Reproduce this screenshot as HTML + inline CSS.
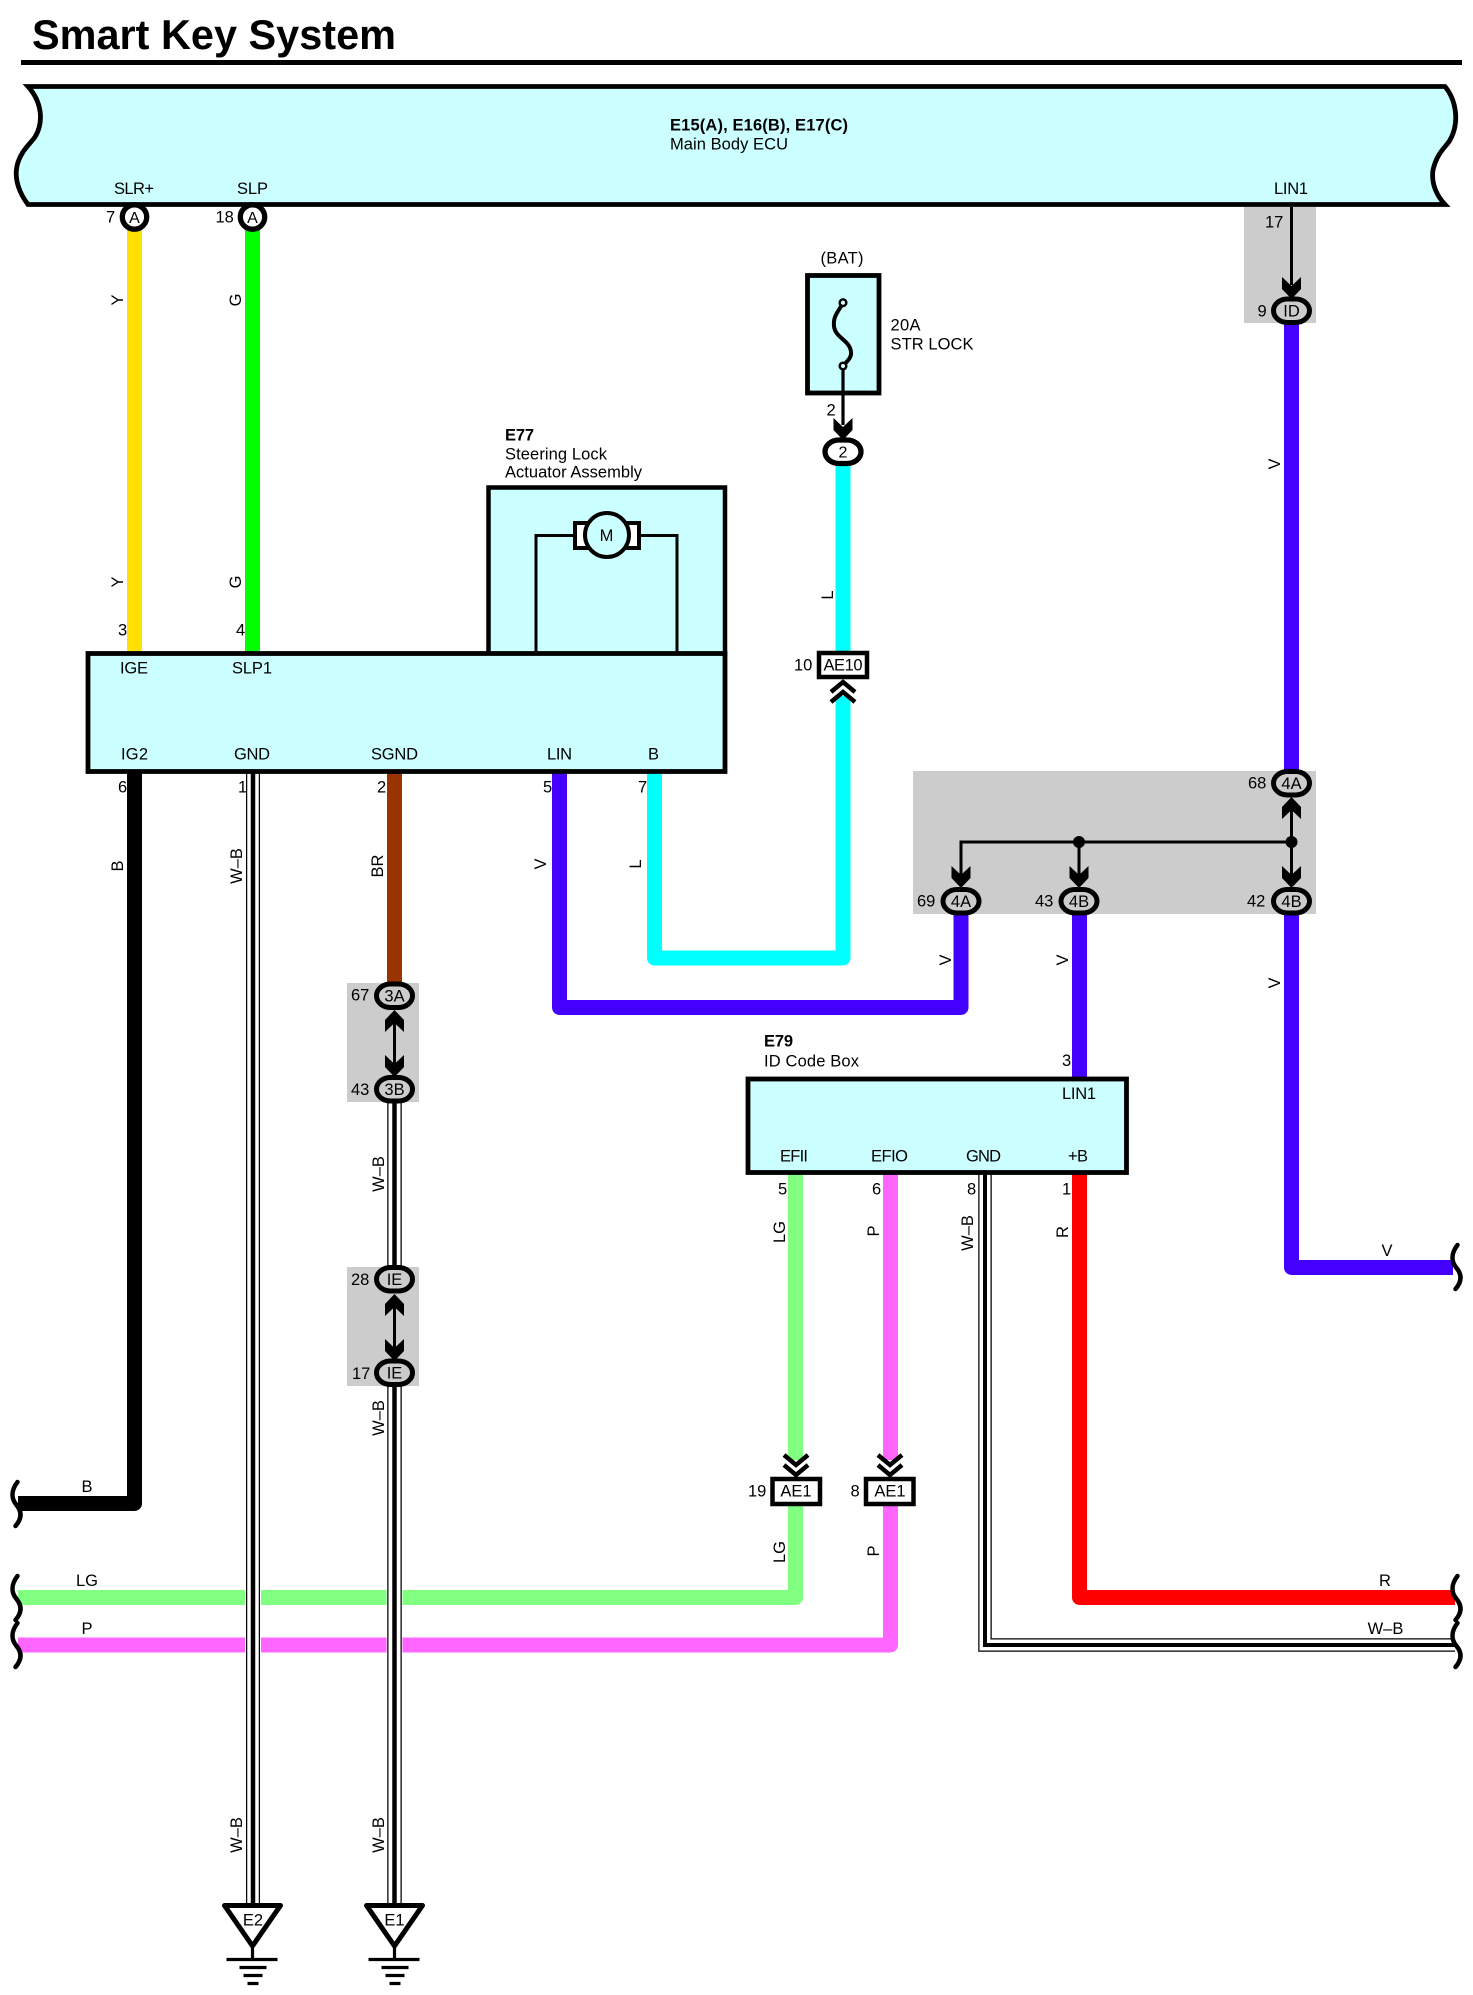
<!DOCTYPE html>
<html><head><meta charset="utf-8"><title>Smart Key System</title>
<style>
html,body{margin:0;padding:0;background:#fff}
svg{display:block}
text{font-family:"Liberation Sans",Arial,sans-serif;font-size:16.5px;fill:#000}
.b{font-weight:bold}
.m{text-anchor:middle}
.w{fill:none;stroke-width:15;stroke-linejoin:round}
</style></head><body>
<svg width="1473" height="1995" viewBox="0 0 1473 1995" xmlns="http://www.w3.org/2000/svg">
<defs>
<g id="ad"><path d="M-9.5 0 L0 9 L9.5 0 V12 L0 22 L-9.5 12 Z" fill="#000"/></g>
<g id="au"><path d="M-9.5 0 L0 -9 L9.5 0 V-12 L0 -22 L-9.5 -12 Z" fill="#000"/></g>
<g id="gnd" fill="none" stroke="#000" stroke-width="3.2">
<path d="M-26 1959.5H25M-13 1967.5H14M-9 1975.5H10M-5 1983.5H6"/>
<path d="M0 1945V1959" />
<path d="M-28 1905.5H28L0 1946Z" fill="#fff" stroke-width="5" stroke-linejoin="round"/>
</g>
<path id="sq" d="M0 0 C-7 9 -6 17 -1 23 C4 29 5 36 -2 44" fill="none" stroke="#000" stroke-width="4.5" stroke-linecap="round"/>
</defs>

<text x="32" y="49" class="b" style="font-size:41.5px" textLength="364" lengthAdjust="spacingAndGlyphs">Smart Key System</text>
<rect x="21" y="60" width="1441" height="5" fill="#000"/>

<!-- ECU -->
<path d="M28 86.500 H1445 C1456 100 1460 122 1450 140 C1447 146 1437 152 1433 170 C1431 184 1437 196 1445 204.500 H28 C20 194 14 180 17 166 C20 152 30 144 35 137 C44 122 42 102 28 86.500Z" fill="#ccffff" stroke="#000" stroke-width="4.800" stroke-linejoin="miter"/>
<text x="670" y="130.700" class="b" textLength="178" lengthAdjust="spacing">E15(A), E16(B), E17(C)</text>
<text x="670" y="149.700" textLength="118" lengthAdjust="spacing">Main Body ECU</text>
<text x="114" y="194" textLength="40" lengthAdjust="spacing">SLR+</text>
<text x="237" y="194" textLength="31" lengthAdjust="spacing">SLP</text>
<text x="1274" y="194" textLength="34" lengthAdjust="spacing">LIN1</text>

<!-- gray boxes -->
<g fill="#cccccc">
<rect x="1244" y="207" width="72" height="116"/>
<rect x="913" y="771" width="403" height="143"/>
<rect x="347" y="983" width="72" height="119"/>
<rect x="347" y="1267" width="72" height="119"/>
</g>

<!-- E77 upper box -->
<rect x="488.500" y="487.500" width="236.500" height="166.500" fill="#ccffff" stroke="#000" stroke-width="4.500"/>
<path d="M536 653V535.500H677V653" fill="none" stroke="#000" stroke-width="3"/>
<rect x="575" y="523" width="64" height="25" fill="#fff" stroke="#000" stroke-width="4"/>
<circle cx="607" cy="535" r="22" fill="#ccffff" stroke="#000" stroke-width="4"/>
<text x="606.500" y="541" class="m">M</text>
<text x="505" y="440.700" class="b" textLength="29" lengthAdjust="spacing">E77</text>
<text x="505" y="459.700" textLength="102" lengthAdjust="spacing">Steering Lock</text>
<text x="505" y="477.500" textLength="137" lengthAdjust="spacing">Actuator Assembly</text>

<!-- thick wires -->
<g class="wires">
<path class="w" stroke="#ffe000" d="M134.500 230V652"/>
<path class="w" stroke="#00ff00" d="M252.500 230V652"/>
<path class="w" stroke="#000" d="M134.500 772V1503.500H18"/>
<path class="w" stroke="#993300" d="M394.500 772V985"/>
<path class="w" stroke="#4400ff" d="M559.500 772V1007.500H961V910"/>
<path class="w" stroke="#00ffff" d="M654.500 772V958H843V696"/>
<path class="w" stroke="#00ffff" d="M843 460V652"/>
<path class="w" stroke="#4400ff" d="M1291.500 320V775"/>
<path class="w" stroke="#4400ff" d="M1291.500 910V1267.500H1453"/>
<path class="w" stroke="#4400ff" d="M1079.500 910V1078"/>
<path class="w" stroke="#80ff80" d="M795.500 1172V1460"/>
<path class="w" stroke="#80ff80" d="M795.500 1500V1597.500H18"/>
<path class="w" stroke="#ff66ff" d="M890.500 1172V1460"/>
<path class="w" stroke="#ff66ff" d="M890.500 1500V1645H18"/>
<path class="w" stroke="#ff0000" d="M1079.500 1172V1597.500H1455"/>
</g>

<!-- W-B wires -->
<g fill="none">
<path d="M253 772V1906" stroke="#fff" stroke-width="16"/>
<path d="M253 772V1906" stroke="#000" stroke-width="14"/>
<path d="M253 772V1906" stroke="#fff" stroke-width="11.500"/>
<path d="M253 772V1906" stroke="#000" stroke-width="4.500"/>
<path d="M394.500 1090V1280M394.500 1375V1906" stroke="#fff" stroke-width="16"/>
<path d="M394.500 1090V1280M394.500 1375V1906" stroke="#000" stroke-width="14.500"/>
<path d="M394.500 1090V1280M394.500 1375V1906" stroke="#fff" stroke-width="12"/>
<path d="M394.500 1090V1280M394.500 1375V1906" stroke="#000" stroke-width="4.500"/>
<path d="M985 1172V1645H1455" stroke="#000" stroke-width="13.500"/>
<path d="M985 1172V1645H1455" stroke="#fff" stroke-width="11"/>
<path d="M985 1172V1645H1455" stroke="#000" stroke-width="4"/>
</g>

<!-- E77 main block -->
<rect x="88" y="653.500" width="637" height="118" fill="#ccffff" stroke="#000" stroke-width="4.800"/>
<text x="120" y="673.500" textLength="28" lengthAdjust="spacing">IGE</text>
<text x="232" y="673.500" textLength="40" lengthAdjust="spacing">SLP1</text>
<text x="121" y="759.500" textLength="27" lengthAdjust="spacing">IG2</text>
<text x="234" y="759.500" textLength="36" lengthAdjust="spacing">GND</text>
<text x="371" y="759.500" textLength="47" lengthAdjust="spacing">SGND</text>
<text x="547" y="759.500" textLength="25" lengthAdjust="spacing">LIN</text>
<text x="648" y="759.500">B</text>

<!-- E79 -->
<rect x="748" y="1079" width="378.500" height="93.500" fill="#ccffff" stroke="#000" stroke-width="4.800"/>
<text x="764" y="1046.300" class="b" textLength="29" lengthAdjust="spacing">E79</text>
<text x="764" y="1066.700" textLength="95" lengthAdjust="spacing">ID Code Box</text>
<text x="1062" y="1099" textLength="34" lengthAdjust="spacing">LIN1</text>
<text x="780" y="1161.500" textLength="28" lengthAdjust="spacing">EFII</text>
<text x="871" y="1161.500" textLength="37" lengthAdjust="spacing">EFIO</text>
<text x="966" y="1161.500" textLength="35" lengthAdjust="spacing">GND</text>
<text x="1068" y="1161.500" textLength="20" lengthAdjust="spacing">+B</text>

<!-- Fuse -->
<rect x="807.500" y="275.500" width="71.500" height="117.500" fill="#ccffff" stroke="#000" stroke-width="4.800"/>
<path d="M843 303 C838 312 833 316 834 326 C835 338 850 340 851 352 C852 358 846 362 843 366" fill="none" stroke="#000" stroke-width="4"/>
<path d="M843 366V425" stroke="#000" stroke-width="3.200"/>
<circle cx="843" cy="302.700" r="3.300" fill="#ccffff" stroke="#000" stroke-width="2.500"/>
<circle cx="843" cy="366" r="3.300" fill="#ccffff" stroke="#000" stroke-width="2.500"/>
<text x="842" y="263.500" class="m" textLength="43" lengthAdjust="spacing">(BAT)</text>
<text x="890.500" y="330.700" textLength="30" lengthAdjust="spacing">20A</text>
<text x="890.500" y="349.500" textLength="83" lengthAdjust="spacing">STR LOCK</text>
<text x="826.500" y="415.500">2</text>
<use href="#ad" x="843" y="418"/>

<!-- thin junction wires -->
<g fill="none" stroke="#000" stroke-width="3">
<path d="M1291.500 207V285"/>
<path d="M961 875V842H1291.500M1079 842V875M1291.500 810V875"/>
<path d="M394.500 1020V1065M394.500 1304V1349"/>
</g>
<circle cx="1079" cy="842" r="6" fill="#000"/>
<circle cx="1291.500" cy="842" r="6" fill="#000"/>
<use href="#ad" x="1291.500" y="277"/>
<use href="#ad" x="961" y="866"/>
<use href="#ad" x="1079" y="866"/>
<use href="#ad" x="1291.500" y="866"/>
<use href="#au" x="1291.500" y="819"/>
<use href="#au" x="394.500" y="1032"/>
<use href="#ad" x="394.500" y="1055"/>
<use href="#au" x="394.500" y="1316"/>
<use href="#ad" x="394.500" y="1339"/>

<!-- round connectors -->
<g stroke="#000" stroke-width="5.300" fill="#fff">
<circle cx="134.500" cy="217" r="12.200"/>
<circle cx="252.500" cy="217" r="12.200"/>
<rect x="825" y="440" width="36" height="23.500" rx="14" ry="11.700"/>
</g>
<g stroke="#000" stroke-width="5" fill="#cccccc">
<rect x="1273.500" y="299" width="36" height="23.500" rx="14" ry="11.700"/>
<rect x="1273.500" y="771.500" width="36" height="23.500" rx="14" ry="11.700"/>
<rect x="943" y="889.500" width="36" height="23.500" rx="14" ry="11.700"/>
<rect x="1061" y="889.500" width="36" height="23.500" rx="14" ry="11.700"/>
<rect x="1273.500" y="889.500" width="36" height="23.500" rx="14" ry="11.700"/>
<rect x="376.500" y="984" width="36" height="23.500" rx="14" ry="11.700"/>
<rect x="376.500" y="1077.500" width="36" height="23.500" rx="14" ry="11.700"/>
<rect x="376.500" y="1267.500" width="36" height="23.500" rx="14" ry="11.700"/>
<rect x="376.500" y="1361" width="36" height="23.500" rx="14" ry="11.700"/>
</g>
<g class="m" text-anchor="middle">
<text x="134.500" y="223" style="font-size:16px">A</text>
<text x="252.500" y="223" style="font-size:16px">A</text>
<text x="843" y="457.500" style="font-size:16px">2</text>
<text x="1291.500" y="316.500">ID</text>
<text x="1291.500" y="789">4A</text>
<text x="961" y="907">4A</text>
<text x="1079" y="907">4B</text>
<text x="1291.500" y="907">4B</text>
<text x="394.500" y="1001.500">3A</text>
<text x="394.500" y="1095">3B</text>
<text x="394.500" y="1285">IE</text>
<text x="394.500" y="1378.500">IE</text>
</g>

<!-- rect connectors -->
<rect x="819" y="653" width="48" height="24" fill="#fff" stroke="#000" stroke-width="4.500"/>
<text x="843" y="670.700" class="m" textLength="39" lengthAdjust="spacing">AE10</text>
<path d="M831 692L843 682L855 692M831 702L843 692L855 702" fill="none" stroke="#000" stroke-width="4.500"/>
<rect x="772.500" y="1479" width="47.500" height="25" fill="#fff" stroke="#000" stroke-width="4.500"/>
<rect x="866" y="1479" width="47.500" height="25" fill="#fff" stroke="#000" stroke-width="4.500"/>
<text x="796" y="1496.700" class="m">AE1</text>
<text x="890" y="1496.700" class="m">AE1</text>
<path d="M784 1455L796 1465L808 1455M784 1465L796 1475L808 1465M878 1455L890 1465L902 1455M878 1465L890 1475L902 1465" fill="none" stroke="#000" stroke-width="4.500"/>

<!-- pin numbers -->
<text x="106" y="222.600">7</text>
<text x="215.500" y="222.600">18</text>
<text x="1265" y="227.500">17</text>
<text x="1257.500" y="316.700">9</text>
<text x="118" y="635.500">3</text>
<text x="236" y="635.500">4</text>
<text x="118" y="792.500">6</text>
<text x="238" y="792.500">1</text>
<text x="377" y="792.500">2</text>
<text x="543" y="792.500">5</text>
<text x="638" y="792.500">7</text>
<text x="794" y="670.700">10</text>
<text x="1248" y="788.500">68</text>
<text x="917" y="906.700">69</text>
<text x="1035" y="906.700">43</text>
<text x="1247" y="906.700">42</text>
<text x="351" y="1000.700">67</text>
<text x="351" y="1095">43</text>
<text x="351" y="1285">28</text>
<text x="352" y="1379">17</text>
<text x="1062" y="1066.200">3</text>
<text x="778" y="1194.500">5</text>
<text x="872" y="1194.500">6</text>
<text x="967" y="1194.500">8</text>
<text x="1062" y="1194.500">1</text>
<text x="748" y="1496.700">19</text>
<text x="850.500" y="1496.700">8</text>

<!-- rotated wire labels -->
<g text-anchor="middle">
<text transform="translate(123,300) rotate(-90)">Y</text>
<text transform="translate(241,300) rotate(-90)">G</text>
<text transform="translate(123,582) rotate(-90)">Y</text>
<text transform="translate(241,582) rotate(-90)">G</text>
<text transform="translate(123,866) rotate(-90)">B</text>
<text transform="translate(242,866) rotate(-90)">W–B</text>
<text transform="translate(383,866) rotate(-90)">BR</text>
<text transform="translate(546,864) rotate(-90)">V</text>
<text transform="translate(641,864) rotate(-90)">L</text>
<text transform="translate(833,595) rotate(-90)">L</text>
<text transform="translate(1280,464) rotate(-90)">V</text>
<text transform="translate(951,960) rotate(-90)">V</text>
<text transform="translate(1068,960) rotate(-90)">V</text>
<text transform="translate(1280,983) rotate(-90)">V</text>
<text transform="translate(384,1174) rotate(-90)">W–B</text>
<text transform="translate(384,1418) rotate(-90)">W–B</text>
<text transform="translate(242,1835) rotate(-90)">W–B</text>
<text transform="translate(384,1835) rotate(-90)">W–B</text>
<text transform="translate(785,1232) rotate(-90)">LG</text>
<text transform="translate(879,1231) rotate(-90)">P</text>
<text transform="translate(973,1233) rotate(-90)">W–B</text>
<text transform="translate(1068,1232) rotate(-90)">R</text>
<text transform="translate(785,1552) rotate(-90)">LG</text>
<text transform="translate(879,1551) rotate(-90)">P</text>
<text x="87" y="1492">B</text>
<text x="87" y="1586">LG</text>
<text x="87" y="1634">P</text>
<text x="1385" y="1586">R</text>
<text x="1385.500" y="1634">W–B</text>
<text x="1387" y="1256.200">V</text>
</g>

<!-- squiggles -->
<use href="#sq" x="17.500" y="1482"/>
<use href="#sq" x="17.500" y="1576"/>
<use href="#sq" x="17.500" y="1623"/>
<use href="#sq" x="1457.500" y="1245"/>
<use href="#sq" x="1457.500" y="1576"/>
<use href="#sq" x="1457.500" y="1623"/>

<!-- grounds -->
<use href="#gnd" x="252.500"/>
<use href="#gnd" x="394.500"/>
<text x="253" y="1925.700" class="m">E2</text>
<text x="394.500" y="1925.700" class="m">E1</text>
</svg>
</body></html>
